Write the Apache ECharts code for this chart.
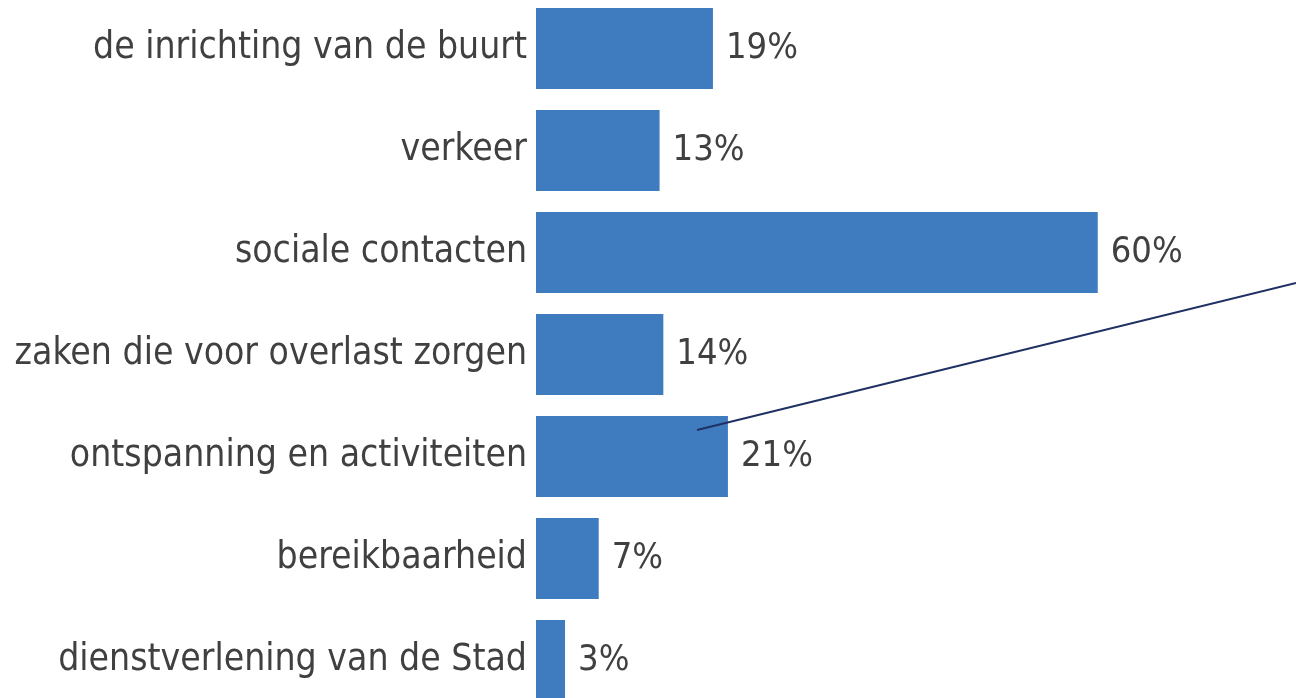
<!DOCTYPE html>
<html>
<head>
<meta charset="utf-8">
<script src="https://cdn.jsdelivr.net/npm/echarts@6/dist/echarts.min.js"></script>
<style>
  html, body { margin: 0; padding: 0; background: #fff; }
  #chart { width: 1296px; height: 698px; }
</style>
</head>
<body>
<div id="chart"></div>
<script>
// categories top to bottom
var categories = [
  'de inrichting van de buurt',
  'verkeer',
  'sociale contacten',
  'zaken die voor overlast zorgen',
  'ontspanning en activiteiten',
  'bereikbaarheid',
  'dienstverlening van de Stad'
]
// percentages
var values = [18.9, 13.2, 60, 13.6, 20.5, 6.7, 3.1]

var chart = echarts.init(document.getElementById('chart'))

chart.setOption({
  animation: false,
  grid: {
    left: 536,
    right: 11,
    top: -2.5,
    height: 714,
    containLabel: false,
    outerBoundsMode: 'none'
  },
  xAxis: {
    type: 'value',
    min: 0,
    max: 80,
    show: false
  },
  yAxis: {
    type: 'category',
    data: categories,
    inverse: true,
    axisLine: { show: false },
    axisTick: { show: false },
    splitLine: { show: false },
    axisLabel: {
      margin: 9,
      color: '#404040',
      fontFamily: 'DejaVu Sans Condensed',
      fontSize: 37
    }
  },
  series: [{
    type: 'bar',
    data: values,
    barWidth: 81,
    itemStyle: { color: '#3F7CBF' },
    label: {
      show: true,
      position: 'right',
      distance: 13,
      color: '#404040',
      fontFamily: 'DejaVu Sans Condensed',
      fontSize: 36,
      formatter: function(p) {
        return Math.round(p.value) + '%'
      }
    }
  }],
  graphic: [{
    // callout line
    type: 'line',
    shape: { x1: 697, y1: 430, x2: 1296, y2: 283 },
    style: { stroke: '#1F3163', lineWidth: 2 },
    z: 100
  }]
})
</script>
</body>
</html>
